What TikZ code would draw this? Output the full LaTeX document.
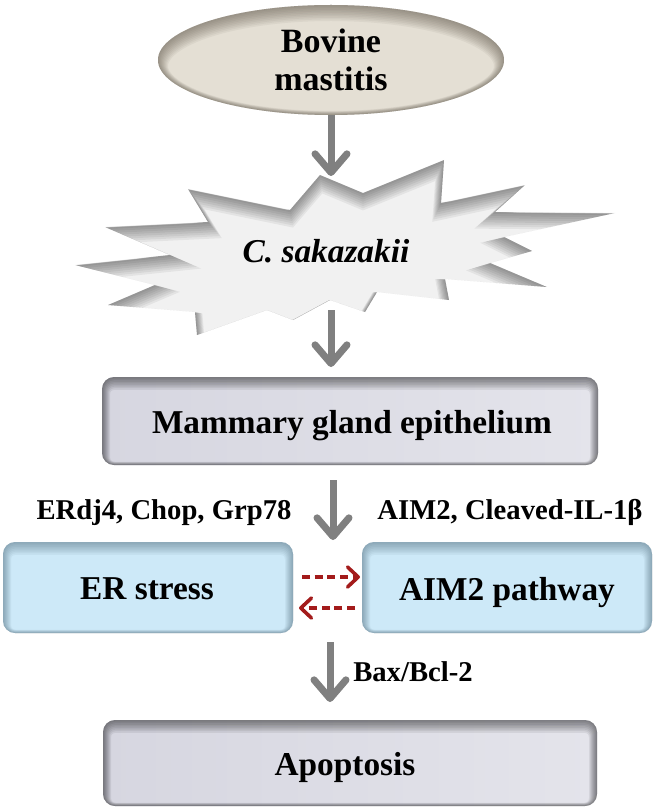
\documentclass[tikz,border=0pt]{standalone}
\usepackage{fontspec}
\setmainfont{Liberation Serif}
\usetikzlibrary{arrows.meta}
\definecolor{arrgray}{HTML}{808080}
\definecolor{dred}{HTML}{A31B1B}
\definecolor{beige}{HTML}{E4DFD4}
\definecolor{beigerim}{HTML}{4A4235}
\definecolor{burstfill}{HTML}{F1F1F1}
\definecolor{boxL}{HTML}{D6D6E0}
\definecolor{boxM}{HTML}{AEAEC4}
\definecolor{boxR}{HTML}{E4E4EB}
\definecolor{bluefill}{HTML}{CDE9F8}
\definecolor{bluerim}{HTML}{1F3B4C}
\newcommand{\myishadow}[5]{%
  \begin{scope}
    \clip #1;
    \foreach \s [evaluate=\s as \w using 1.5*\s] in {1,...,#3}
      \draw[#2, draw opacity=#4, line width=\w pt, shift={(0,#5*\s)}] #1;
  \end{scope}}
\def\bovpath{(331,60) ellipse [x radius=173, y radius=55]}
\def\burstpath{(188,189) -- (290,210) -- (320,175) -- (363,193) -- (444,160) -- (441,203) -- (525,185) -- (495,212) -- (615,213) -- (504,237) -- (532,251) -- (490,263) -- (547,287) -- (445,279) -- (449,300) -- (377,292) -- (365,312) -- (330,300) -- (293,320) -- (267,310) -- (197,335) -- (195,312) -- (108,305) -- (155,285) -- (75,265) -- (170,255) -- (105,227) -- (208,222) -- cycle}
\def\mampath{[rounded corners=9pt] (102,377) rectangle (598,465)}
\def\erpath{[rounded corners=9pt] (3,542) rectangle (293,633)}
\def\aimpath{[rounded corners=9pt] (362,542) rectangle (652,633)}
\def\apopath{[rounded corners=9pt] (103,720) rectangle (597,806)}
\tikzset{
  boxtext/.style={font=\fontsize{25}{28}\selectfont\bfseries, anchor=base, inner sep=0pt, text=black},
  labtext/.style={font=\fontsize{21.5}{24}\selectfont\bfseries, anchor=base, inner sep=0pt, text=black},
  grayarrow/.style={draw=arrgray, line width=5.25pt, -{Straight Barb[length=14pt,width=24pt,round]}},
  redarrow/.style={draw=dred, line width=2.7pt, dash pattern=on 6pt off 3.5pt, -{Straight Barb[length=8pt,width=15pt,round]}}
}
\begin{document}
\begin{tikzpicture}[x=0.75pt, y=-0.75pt]
\useasboundingbox[fill=white] (0,0) rectangle (657,809);
% Bovine mastitis ellipse
\fill[beige] \bovpath;
\myishadow{\bovpath}{beigerim}{10}{0.06}{0.6}
\node[align=center, font=\fontsize{25.5}{28.5}\selectfont\bfseries, inner sep=0pt] (bov) at (331,60) {Bovine\\mastitis};
% starburst
\fill[burstfill] \burstpath;
\myishadow{\burstpath}{black}{8}{0.055}{1.1}
\node[boxtext, font=\fontsize{25}{28}\selectfont\bfseries\itshape] (csak) at (326,262) {C. sakazakii};
% mammary box
\shade[left color=boxL, middle color=boxM, right color=boxR] \mampath;
\myishadow{\mampath}{black}{8}{0.065}{0.6}
\node[boxtext] (mam) at (352,433) {Mammary gland epithelium};
% ER and AIM2 boxes
\fill[bluefill] \erpath;
\myishadow{\erpath}{bluerim}{8}{0.05}{0.6}
\fill[bluefill] \aimpath;
\myishadow{\aimpath}{bluerim}{8}{0.05}{0.6}
\node[boxtext] (er) at (147,599) {ER stress};
\node[boxtext] (aim) at (507,600) {AIM2 pathway};
\node[labtext] (erlab) at (164,519) {ERdj4, Chop, Grp78};
\node[labtext] (aimlab) at (510,519) {AIM2, Cleaved-IL-1β};
% apoptosis box
\shade[left color=boxL, middle color=boxM, right color=boxR] \apopath;
\myishadow{\apopath}{black}{8}{0.065}{0.6}
\node[boxtext] (apo) at (345,775) {Apoptosis};
\node[labtext] (bax) at (413,681) {Bax/Bcl-2};
% connector ends
\coordinate (a1s) at (331,115); \coordinate (a1e) at (331,176);
\coordinate (a2s) at (331,310); \coordinate (a2e) at (331,367);
\coordinate (a3s) at (333,480); \coordinate (a3e) at (333,540);
\coordinate (a4s) at (330,642); \coordinate (a4e) at (330,702);
\coordinate (r1s) at (302,577); \coordinate (r1e) at (360,577);
\coordinate (r2s) at (355,608); \coordinate (r2e) at (299,608);
\draw[grayarrow] (a1s) -- (a1e);
\draw[grayarrow] (a2s) -- (a2e);
\draw[grayarrow] (a3s) -- (a3e);
\draw[grayarrow] (a4s) -- (a4e);
\draw[redarrow] (r1s) -- (r1e);
\draw[redarrow] (r2s) -- (r2e);
\end{tikzpicture}
\end{document}
